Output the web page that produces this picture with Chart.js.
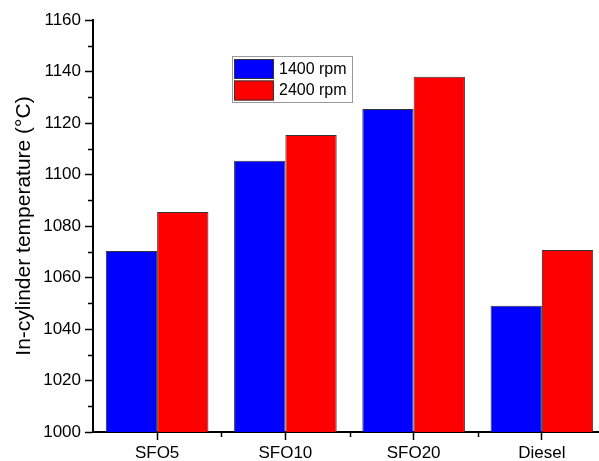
<!DOCTYPE html>
<html>
<head>
<meta charset="utf-8">
<script src="https://cdn.jsdelivr.net/npm/chart.js@4/dist/chart.umd.min.js"></script>
<style>
html,body{margin:0;padding:0;background:#fff;overflow:hidden;width:599px;height:461px;}
canvas{display:block;}
</style>
</head>
<body>
<canvas id="c" width="606" height="461"></canvas>
<script>
const categories = ["SFO5", "SFO10", "SFO20", "Diesel"];
const rpm1400 = [1070.3, 1105.3, 1125.4, 1049.0];
const rpm2400 = [1085.4, 1115.3, 1138.0, 1070.7];
const seriesNames = ["1400 rpm", "2400 rpm"];
const yMin = 1000, yMax = 1160, yStep = 20;
const FONT = "'Liberation Sans', Arial, sans-serif";

const minorTicks = {
  id: 'minorTicks',
  afterDraw(chart) {
    const ctx = chart.ctx;
    const y = chart.scales.y, x = chart.scales.x;
    ctx.save();
    ctx.strokeStyle = '#000';
    ctx.lineWidth = 1.5;
    ctx.beginPath();
    for (let v = yMin + yStep / 2; v < yMax; v += yStep) {
      const py = Math.round(y.getPixelForValue(v)) + 0.5;
      ctx.moveTo(chart.chartArea.left - 5, py);
      ctx.lineTo(chart.chartArea.left, py);
    }
    for (let i = 0; i < categories.length - 1; i++) {
      const px = Math.round((x.getPixelForValue(i) + x.getPixelForValue(i + 1)) / 2) + 0.5;
      ctx.moveTo(px, chart.chartArea.bottom);
      ctx.lineTo(px, chart.chartArea.bottom + 5);
    }
    ctx.stroke();
    ctx.restore();
  }
};

const boxLegend = {
  id: 'boxLegend',
  afterDraw(chart) {
    const ctx = chart.ctx;
    ctx.save();
    ctx.fillStyle = '#fff';
    ctx.fillRect(232, 56, 120, 46);
    ctx.strokeStyle = '#999';
    ctx.lineWidth = 1;
    ctx.strokeRect(232.5, 56.5, 120, 46);
    chart.data.datasets.forEach((ds, i) => {
      const top = 59 + i * 21.5;
      ctx.fillStyle = ds.backgroundColor;
      ctx.fillRect(234, top, 40, 20);
      ctx.strokeStyle = '#333';
      ctx.strokeRect(234.5, top + 0.5, 39, 19);
      ctx.fillStyle = '#000';
      ctx.font = '16px ' + FONT;
      ctx.textBaseline = 'middle';
      ctx.textAlign = 'left';
      ctx.fillText(ds.label, 279, top + 10.5);
    });
    ctx.restore();
  }
};

new Chart(document.getElementById('c'), {
  type: 'bar',
  data: {
    labels: categories,
    datasets: [
      { label: seriesNames[0], data: rpm1400, backgroundColor: '#0000ff', borderColor: '#333', borderWidth: 1 },
      { label: seriesNames[1], data: rpm2400, backgroundColor: '#ff0000', borderColor: '#333', borderWidth: 1 }
    ]
  },
  options: {
    responsive: false,
    animation: false,
    layout: { padding: { top: 20, right: 0, left: 0, bottom: 0 } },
    plugins: { legend: { display: false }, tooltip: { enabled: false } },
    datasets: { bar: { barPercentage: 1.0, categoryPercentage: 0.8 } },
    scales: {
      x: {
        offset: true,
        grid: { offset: false, drawOnChartArea: false, color: '#000', tickLength: 8, tickWidth: 1.5 },
        border: { color: '#000', width: 2 },
        ticks: { color: '#000', font: { family: FONT, size: 17 }, padding: 3, maxRotation: 0 },
        afterFit(s) { s.height = 29; }
      },
      y: {
        min: yMin, max: yMax,
        ticks: { stepSize: yStep, color: '#000', font: { family: FONT, size: 17 }, padding: 4,
                 callback: (v) => String(v) },
        grid: { drawOnChartArea: false, color: '#000', tickLength: 8, tickWidth: 1.5 },
        border: { color: '#000', width: 2 },
        title: { display: true, text: 'In-cylinder temperature (°C)', color: '#000', font: { family: FONT, size: 21 }, padding: { top: 12, bottom: 2 } },
        afterFit(s) { s.width = 93; }
      }
    }
  },
  plugins: [minorTicks, boxLegend]
});
</script>
</body>
</html>
